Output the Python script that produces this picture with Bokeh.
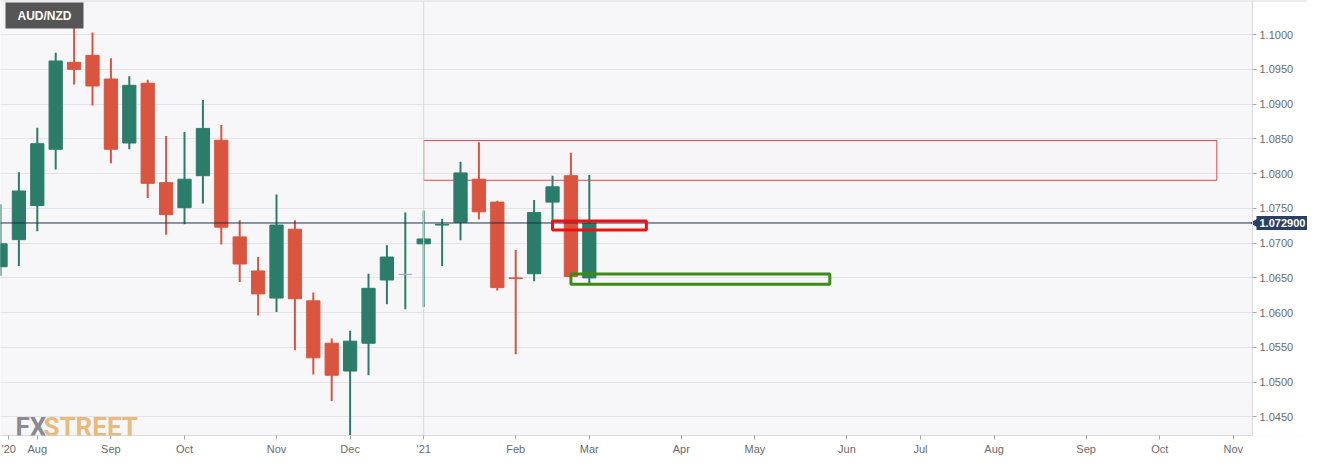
from math import pi
from bokeh.plotting import figure
from bokeh.models import (ColumnDataSource, FixedTicker, NumeralTickFormatter, Span, Label,
                          Range1d, BoxAnnotation)
from bokeh.embed import file_html
from bokeh.resources import INLINE

# ---- data (weekly AUD/NZD candles, week index 0 = 2020-07-19) ----
weeks = ["2020-07-19", "2020-07-26", "2020-08-02", "2020-08-09", "2020-08-16", "2020-08-23",
         "2020-08-30", "2020-09-06", "2020-09-13", "2020-09-20", "2020-09-27", "2020-10-04",
         "2020-10-11", "2020-10-18", "2020-10-25", "2020-11-01", "2020-11-08", "2020-11-15",
         "2020-11-22", "2020-11-29", "2020-12-06", "2020-12-13", "2020-12-20", "2020-12-27",
         "2021-01-03", "2021-01-10", "2021-01-17", "2021-01-24", "2021-01-31", "2021-02-07",
         "2021-02-14", "2021-02-21", "2021-02-28"]
opens = [1.0666, 1.0705, 1.0754, 1.0835, 1.0960, 1.0970, 1.0936, 1.0844, 1.0930, 1.0787,
         1.0751, 1.0797, 1.0848, 1.0709, 1.0660, 1.0621, 1.0720, 1.0617, 1.0556, 1.0516,
         1.0556, 1.0647, 1.0655, 1.0699, 1.0726, 1.0730, 1.0792, 1.0759, 1.0650, 1.0656,
         1.0759, 1.0797, 1.0650]
highs = [1.0756, 1.0802, 1.0866, 1.0974, 1.1045, 1.1003, 1.0966, 1.0940, 1.0935, 1.0854,
         1.0860, 1.0906, 1.0870, 1.0733, 1.0680, 1.0770, 1.0733, 1.0629, 1.0563, 1.0574,
         1.0656, 1.0697, 1.0744, 1.0747, 1.0735, 1.0817, 1.0845, 1.0761, 1.0690, 1.0762,
         1.0797, 1.0830, 1.0798]
lows = [1.0653, 1.0667, 1.0717, 1.0806, 1.0928, 1.0898, 1.0815, 1.0835, 1.0765, 1.0712,
        1.0727, 1.0757, 1.0698, 1.0644, 1.0596, 1.0601, 1.0546, 1.0511, 1.0473, 1.0411,
        1.0510, 1.0612, 1.0605, 1.0608, 1.0667, 1.0704, 1.0734, 1.0632, 1.0540, 1.0645,
        1.0725, 1.0651, 1.0641]
closes = [1.0699, 1.0775, 1.0843, 1.0962, 1.0950, 1.0926, 1.0835, 1.0927, 1.0786, 1.0741,
          1.0792, 1.0865, 1.0723, 1.0670, 1.0627, 1.0726, 1.0620, 1.0535, 1.0510, 1.0559,
          1.0635, 1.0680, 1.0655, 1.0706, 1.0727, 1.0801, 1.0745, 1.0636, 1.0649, 1.0744,
          1.0781, 1.0652, 1.0729]

current_price = 1.0729
price_text = "1.072900"
pair_name = "AUD/NZD"

tick_positions = [0.45, 2, 6, 10, 15, 19, 23, 28, 32, 37, 41, 46, 50, 54, 59, 63, 67]
tick_labels = ["'20", "Aug", "Sep", "Oct", "Nov", "Dec", "'21", "Feb", "Mar", "Apr", "May",
               "Jun", "Jul", "Aug", "Sep", "Oct", "Nov"]
y_ticks = [1.045, 1.050, 1.055, 1.060, 1.065, 1.070, 1.075, 1.080, 1.085, 1.090, 1.095, 1.100]

# time axis extent: chart ends at week 68.04; the price scale sits beyond it
chart_end = 68.04
view_end = 71.03

# zones drawn on the chart: (left week, right week, top, bottom)
zone_resist = [23.0, 66.1, 1.08476, 1.07904]
zone_small = [30.0, 35.1, 1.0732, 1.0719]
zone_support = [31.0, 45.07, 1.06555, 1.06410]

GREEN = "#2b7d69"
RED = "#d9553f"
DOJI = "#a9b5b1"
NAVY = "#2a3f63"

x = list(range(len(weeks)))
body_col, wick_col, tops, bots = [], [], [], []
for o, c in zip(opens, closes):
    if abs(c - o) < 1e-9:
        body_col.append(DOJI); wick_col.append(GREEN)
    elif c > o:
        body_col.append(GREEN); wick_col.append(GREEN)
    else:
        body_col.append(RED); wick_col.append(RED)
    tops.append(max(o, c)); bots.append(min(o, c))

src = ColumnDataSource(dict(x=x, open=opens, high=highs, low=lows, close=closes,
                            top=tops, bottom=bots, body=body_col, wick=wick_col))

p = figure(width=1307, height=457, output_backend="svg", toolbar_location=None,
           x_range=Range1d(0.0, view_end), y_range=Range1d(1.04233, 1.1049),
           y_axis_location="right", min_border_left=0, min_border_top=0,
           min_border_right=0, min_border_bottom=19)
p.background_fill_color = "#f7f7fa"
p.border_fill_color = "white"
p.outline_line_color = None

p.xgrid.grid_line_color = None
p.ygrid.grid_line_color = "#e3e3e9"
p.ygrid.ticker = FixedTicker(ticks=y_ticks)

# white area of the price scale (drawn under the glyphs)
p.add_layout(BoxAnnotation(left=chart_end, fill_color="white", fill_alpha=1.0,
                           line_color=None, level="underlay"))

p.xaxis.ticker = FixedTicker(ticks=tick_positions)
p.xaxis.major_label_overrides = {t: l for t, l in zip(tick_positions, tick_labels)}
p.xaxis.bounds = (0, chart_end)
p.yaxis.ticker = FixedTicker(ticks=y_ticks)
p.yaxis.formatter = NumeralTickFormatter(format="0.0000")
p.yaxis.fixed_location = chart_end
for ax in (p.xaxis, p.yaxis):
    ax.axis_line_color = "#d9d9de"
    ax.major_tick_line_color = "#a8a8ae"
    ax.major_tick_in = 0
    ax.major_tick_out = 4
    ax.minor_tick_line_color = None
    ax.major_label_text_color = "#6b6b6b"
    ax.major_label_text_font = "Liberation Sans"
    ax.major_label_text_font_size = "11px"
    ax.major_label_standoff = 3

# top border of the chart
p.add_layout(Span(location=p.y_range.end, dimension="width", line_color="#dcdce0", line_width=2))

# year separator
p.add_layout(Span(location=23, dimension="height", line_color="#d6d6dc", line_width=1))

# resistance zone
p.quad(left=[zone_resist[0]], right=[zone_resist[1]], top=[zone_resist[2]], bottom=[zone_resist[3]],
       fill_color="#fbeaea", fill_alpha=0.15, line_color="#e8474a", line_width=1)

# candles
p.segment(x0="x", x1="x", y0="low", y1="high", color="wick", line_width=2, source=src)
p.vbar(x="x", width=0.72, top="top", bottom="bottom", fill_color="body", line_color="body",
       line_width=1, source=src)

# current price line (chart part)
p.segment(x0=[0], x1=[chart_end], y0=[current_price], y1=[current_price],
          line_color="#1f2f4a", line_width=1)

# small zone and support zone
p.quad(left=[zone_small[0]], right=[zone_small[1]], top=[zone_small[2]], bottom=[zone_small[3]],
       fill_color=None, line_color="#f01010", line_width=3)
p.quad(left=[zone_support[0]], right=[zone_support[1]], top=[zone_support[2]], bottom=[zone_support[3]],
       fill_color=None, line_color="#3b8b16", line_width=3)

# price tag on the price scale, with its pointer
p.scatter(x=[chart_end + 0.17], y=[current_price], marker="triangle", angle=pi / 2,
          size=8, fill_color=NAVY, line_color=NAVY)
p.add_layout(Label(x=1256, x_units="screen", y=current_price, text=price_text,
                   text_color="white", text_font="Liberation Sans", text_font_style="bold",
                   text_font_size="11px", text_baseline="middle", text_align="left",
                   background_fill_color=NAVY, padding=(3, 3)))

# pair label
p.add_layout(Label(x=5, x_units="screen", y=433, y_units="screen", text=pair_name,
                   text_color="white", text_font="Liberation Sans", text_font_style="bold",
                   text_font_size="12px", text_baseline="top", text_align="left",
                   background_fill_color="#555555", padding=(12, 6)))

# logo
p.add_layout(Label(x=15, x_units="screen", y=9, y_units="screen", text="FX",
                   text_color="#8a8a90", text_font="Roboto", text_font_style="bold",
                   text_font_size="26px", text_baseline="alphabetic", text_align="left"))
p.add_layout(Label(x=43, x_units="screen", y=9, y_units="screen", text="STREET",
                   text_color="#e8bb7c", text_font="Roboto", text_font_style="bold",
                   text_font_size="26px", text_baseline="alphabetic", text_align="left"))

open("out.html", "w").write(file_html(p, INLINE))
